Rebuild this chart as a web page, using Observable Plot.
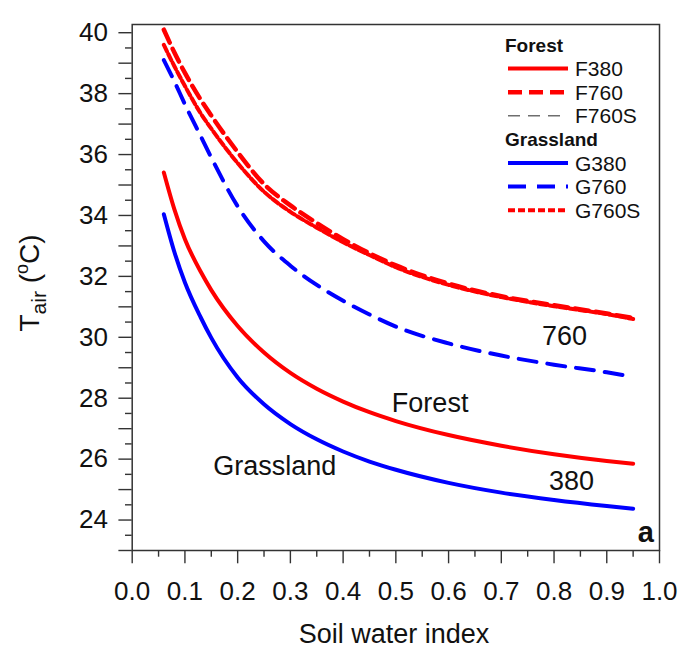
<!DOCTYPE html>
<html><head><meta charset="utf-8">
<script src="https://cdn.jsdelivr.net/npm/d3@7"></script>
<script src="https://cdn.jsdelivr.net/npm/@observablehq/plot@0.6"></script>
<style>
body{margin:0;background:#fff;}
#chart{width:679px;height:648px;}
</style></head><body><div id="chart"></div>
<script>
// Soil water index (x) sample positions
const swi   = [0.06, 0.08, 0.10, 0.13, 0.15, 0.20, 0.25, 0.30, 0.35, 0.40, 0.45, 0.50, 0.60, 0.70, 0.80, 0.90, 0.95];
// Air temperature (°C) per series
const F380  = [35.41, 34.2, 33.22, 32.15, 31.55, 30.37, 29.5, 28.83, 28.31, 27.89, 27.54, 27.25, 26.79, 26.44, 26.16, 25.94, 25.85];
const F760  = [40.1, 39.35, 38.68, 37.8, 37.28, 36.08, 35.03, 34.33, 33.75, 33.22, 32.76, 32.36, 31.76, 31.35, 31.05, 30.78, 30.63];
const F760S = [39.6, 38.9, 38.25, 37.35, 36.85, 35.72, 34.78, 34.12, 33.6, 33.12, 32.7, 32.3, 31.72, 31.32, 31.02, 30.76, 30.6];
const G380  = [34.04, 32.8, 31.8, 30.65, 29.98, 28.68, 27.8, 27.15, 26.65, 26.25, 25.92, 25.65, 25.22, 24.9, 24.66, 24.46, 24.37];
const G760  = [39.1, 38.4, 37.65, 36.6, 35.9, 34.3, 33.15, 32.35, 31.72, 31.2, 30.75, 30.35, 29.8, 29.4, 29.1, 28.85, 28.7];
const G760S = [39.6, 38.9, 38.25, 37.35, 36.85, 35.72, 34.78, 34.12, 33.6, 33.12, 32.7, 32.3, 31.72, 31.32, 31.02, 30.76, 30.6];

// tick labels
const xTicks = [0, 0.1, 0.2, 0.3, 0.4, 0.5, 0.6, 0.7, 0.8, 0.9, 1.0];
const yTickLabels = [24, 26, 28, 30, 32, 34, 36, 38, 40];

// in-plot annotations
const noteText = ["760", "380", "Forest", "Grassland"];
const noteX    = [0.82, 0.833, 0.565, 0.2705];
const noteY    = [30.02, 25.27, 27.83, 25.75];

const RED = "#ff0000", BLUE = "#0000ff", GRAY = "#6e6e6e";
const series = [
  {name: "F760S", values: F760S, color: GRAY, width: 1.5, dash: "12,8"},
  {name: "G380",  values: G380,  color: BLUE, width: 4,   dash: null},
  {name: "F380",  values: F380,  color: RED,  width: 4,   dash: null},
  {name: "G760",  values: G760,  color: BLUE, width: 4,   dash: "18,11"},
  {name: "F760",  values: F760,  color: RED,  width: 4.5, dash: "14,7"},
  {name: "G760S", values: G760S, color: RED,  width: 4,   dash: "7,3"}
];
const legendOrder = [
  {header: "Forest"}, "F380", "F760", "F760S",
  {header: "Grassland"}, "G380", "G760", "G760S"
];

const FONT = "Liberation Sans, Arial, Helvetica, sans-serif";
const AX = "#333";

const lineMarks = series.map(s =>
  Plot.line(swi.map((x, i) => ({x, y: s.values[i]})), {
    x: "x", y: "y", stroke: s.color, strokeWidth: s.width,
    strokeDasharray: s.dash || undefined, curve: "monotone-x"
  })
);

const notes = noteText.map((t, i) => ({t, x: noteX[i], y: noteY[i]}));

const yMajor = d3.range(23, 40.01, 1);
const yMinor = d3.range(23.5, 40.01, 1);
const xMinor = d3.range(0.05, 1, 0.1);

const plot = Plot.plot({
  width: 679, height: 648,
  marginLeft: 131.7, marginRight: 20, marginTop: 24, marginBottom: 98,
  style: {fontFamily: FONT, fontSize: "26px", color: "#111", background: "#fff"},
  x: {domain: [0, 1]},
  y: {domain: [23, 40.27]},
  marks: [
    Plot.axisY(yMajor, {tickSize: 13.3, tickPadding: 11, stroke: AX, strokeWidth: 1.4,
      tickFormat: d => yTickLabels.includes(d) ? String(d) : "", fontSize: 26, label: null}),
    Plot.axisY(yMinor, {tickSize: 6.7, stroke: AX, strokeWidth: 1.4, tickFormat: () => "", label: null}),
    Plot.axisX(xTicks, {tickSize: 13.3, tickPadding: 18, stroke: AX, strokeWidth: 1.4,
      tickFormat: d3.format(".1f"), fontSize: 26, label: null}),
    Plot.axisX(xMinor, {tickSize: 6.7, stroke: AX, strokeWidth: 1.4, tickFormat: () => "", label: null}),
    ...lineMarks,
    Plot.frame({stroke: AX, strokeWidth: 1.5}),
    Plot.text(notes, {x: "x", y: "y", text: "t", fontSize: 27, fill: "#111"}),
    Plot.text(["a"], {x: [0.974], y: [23.59], text: d => d, fontSize: 29, fontWeight: "bold", fill: "#111"})
  ]
});
document.getElementById("chart").appendChild(plot);

const svg = d3.select(plot);

// x axis title
svg.append("text").attr("x", 394).attr("y", 643).attr("text-anchor", "middle")
  .attr("font-size", 27).attr("fill", "#111").text("Soil water index");

// y axis title: T_air (°C)
const yt = svg.append("text")
  .attr("transform", "translate(39,283) rotate(-90)")
  .attr("text-anchor", "middle").attr("font-size", 28).attr("fill", "#111");
yt.append("tspan").text("T");
yt.append("tspan").attr("dy", 7).attr("font-size", 21).text("air");
yt.append("tspan").attr("dy", -7).text(" (");
yt.append("tspan").attr("dy", -11).attr("font-size", 18).text("o");
yt.append("tspan").attr("dy", 11).text("C)");

// legend
const lg = svg.append("g").attr("text-anchor", "start");
let yy = 45;
legendOrder.forEach(item => {
  if (typeof item === "object") {
    lg.append("text").attr("x", 505).attr("y", yy).attr("dy", "0.35em").attr("text-anchor", "start")
      .attr("font-size", 19).attr("font-weight", "bold").attr("fill", "#111").text(item.header);
  } else {
    const s = series.find(d => d.name === item);
    lg.append("line").attr("x1", 508).attr("x2", 568).attr("y1", yy).attr("y2", yy)
      .attr("stroke", s.color).attr("stroke-width", s.width)
      .attr("stroke-dasharray", s.dash || null);
    lg.append("text").attr("x", 575).attr("y", yy).attr("dy", "0.36em").attr("text-anchor", "start")
      .attr("font-size", 21).attr("fill", "#111").text(item);
  }
  yy += 23.6;
});
</script>
</body></html>
